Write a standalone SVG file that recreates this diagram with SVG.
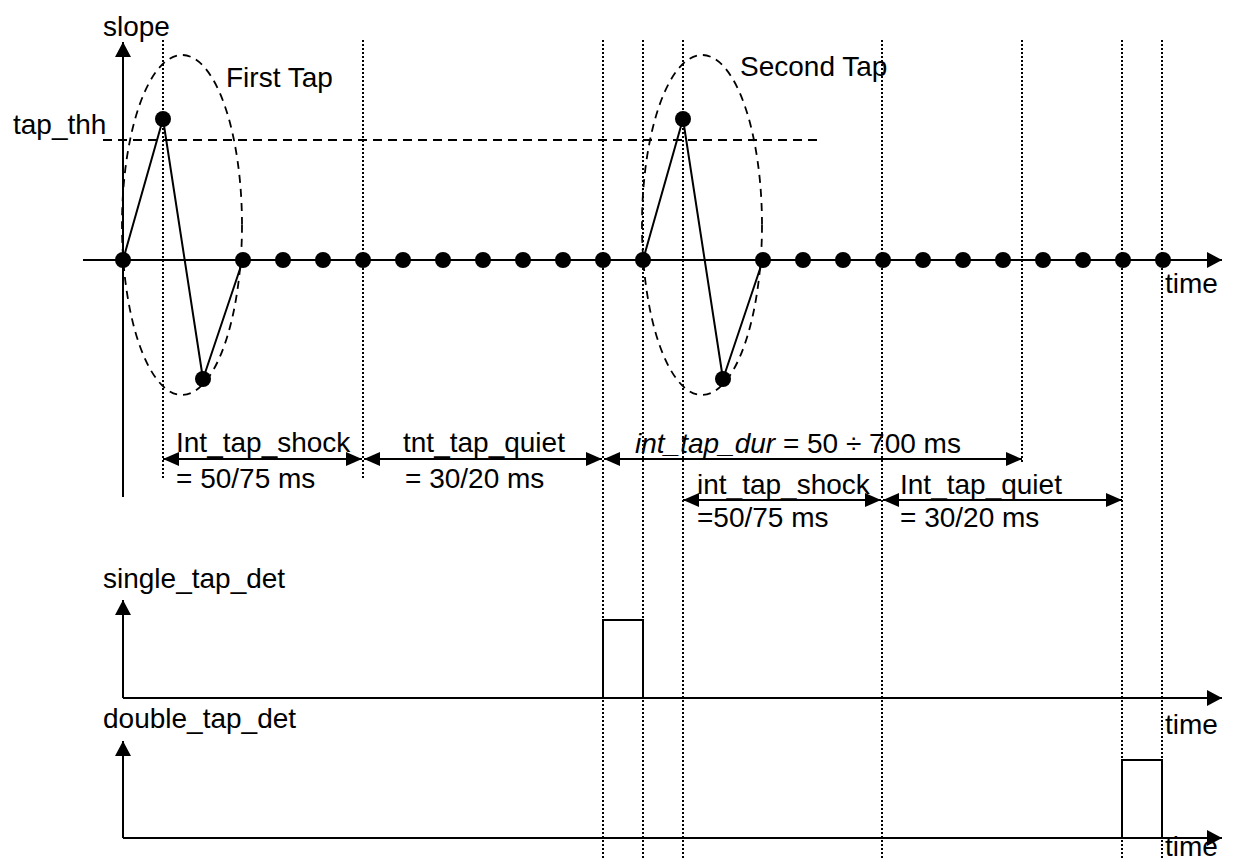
<svg xmlns="http://www.w3.org/2000/svg" width="1234" height="864" viewBox="0 0 1234 864">
<style>
text{font-family:"Liberation Sans",Arial,sans-serif;font-size:28px;fill:#000}
.ax{stroke:#000;stroke-width:2;fill:none}
.sig{stroke:#000;stroke-width:2;fill:none}
.dot{fill:#000}
.grid{stroke:#000;stroke-width:2;stroke-dasharray:2 2;fill:none}
.dash{stroke:#000;stroke-width:2;stroke-dasharray:9 6;fill:none}
.ell{stroke:#000;stroke-width:1.8;stroke-dasharray:8 6;fill:none}
.dim{stroke:#000;stroke-width:2;fill:none;marker-start:url(#ah);marker-end:url(#ah)}
</style>
<defs>
<marker id="ah" viewBox="0 0 16 14" refX="16" refY="7" markerWidth="16" markerHeight="14" markerUnits="userSpaceOnUse" orient="auto-start-reverse"><path d="M0,0 L16,7 L0,14 z" fill="#000"/></marker>
<marker id="axh" viewBox="0 0 15 16" refX="15" refY="8" markerWidth="15" markerHeight="16" markerUnits="userSpaceOnUse" orient="auto"><path d="M0,0 L15,8 L0,16 z" fill="#000"/></marker>
</defs>

<g id="gridlines">
<line class="grid" x1="163" y1="40" x2="163" y2="478"/>
<line class="grid" x1="363" y1="40" x2="363" y2="478"/>
<line class="grid" x1="603" y1="40" x2="603" y2="858"/>
<line class="grid" x1="643" y1="40" x2="643" y2="858"/>
<line class="grid" x1="683" y1="40" x2="683" y2="858"/>
<line class="grid" x1="882" y1="40" x2="882" y2="858"/>
<line class="grid" x1="1022" y1="40" x2="1022" y2="463"/>
<line class="grid" x1="1122" y1="40" x2="1122" y2="858"/>
<line class="grid" x1="1162" y1="40" x2="1162" y2="858"/>
</g>

<g id="slope-axes">
<line class="ax" x1="123" y1="497" x2="123" y2="42" marker-end="url(#axh)"/>
<line class="ax" x1="83" y1="260" x2="1222" y2="260" marker-end="url(#axh)"/>
<text x="103" y="36">slope</text>
<text x="1165" y="293">time</text>
</g>

<g id="threshold">
<line class="dash" x1="103" y1="140" x2="820" y2="140"/>
<text x="13" y="134">tap_thh</text>
</g>

<g id="first-tap">
<ellipse class="ell" cx="182" cy="225" rx="60" ry="170"/>
<polyline class="sig" points="123,260 163,119 203,379 243,260"/>
<text x="226" y="87">First Tap</text>
</g>

<g id="second-tap">
<ellipse class="ell" cx="702" cy="225" rx="60" ry="170"/>
<polyline class="sig" points="643,260 683,119 723,379 763,260"/>
<text x="740" y="76">Second Tap</text>
</g>

<g id="samples">
<circle class="dot" cx="123" cy="260" r="8"/>
<circle class="dot" cx="163" cy="119" r="8"/>
<circle class="dot" cx="203" cy="379" r="8"/>
<circle class="dot" cx="243" cy="260" r="8"/>
<circle class="dot" cx="283" cy="260" r="8"/>
<circle class="dot" cx="323" cy="260" r="8"/>
<circle class="dot" cx="363" cy="260" r="8"/>
<circle class="dot" cx="403" cy="260" r="8"/>
<circle class="dot" cx="443" cy="260" r="8"/>
<circle class="dot" cx="483" cy="260" r="8"/>
<circle class="dot" cx="523" cy="260" r="8"/>
<circle class="dot" cx="563" cy="260" r="8"/>
<circle class="dot" cx="603" cy="260" r="8"/>
<circle class="dot" cx="643" cy="260" r="8"/>
<circle class="dot" cx="683" cy="119" r="8"/>
<circle class="dot" cx="723" cy="379" r="8"/>
<circle class="dot" cx="763" cy="260" r="8"/>
<circle class="dot" cx="803" cy="260" r="8"/>
<circle class="dot" cx="843" cy="260" r="8"/>
<circle class="dot" cx="883" cy="260" r="8"/>
<circle class="dot" cx="923" cy="260" r="8"/>
<circle class="dot" cx="963" cy="260" r="8"/>
<circle class="dot" cx="1003" cy="260" r="8"/>
<circle class="dot" cx="1043" cy="260" r="8"/>
<circle class="dot" cx="1083" cy="260" r="8"/>
<circle class="dot" cx="1123" cy="260" r="8"/>
<circle class="dot" cx="1163" cy="260" r="8"/>
</g>

<g id="connectors">
<line class="dim" x1="163" y1="459" x2="362" y2="459"/>
<line class="dim" x1="364" y1="459" x2="602" y2="459"/>
<line class="dim" x1="604" y1="459" x2="1022" y2="459"/>
<line class="dim" x1="683" y1="500" x2="881" y2="500"/>
<line class="dim" x1="883" y1="500" x2="1122" y2="500"/>
</g>

<g id="labels">
<text x="176" y="452">Int_tap_shock</text>
<text x="176" y="488">= 50/75 ms</text>
<text x="403" y="452">tnt_tap_quiet</text>
<text x="405" y="488">= 30/20 ms</text>
<text x="635" y="453"><tspan font-style="italic">int_tap_dur</tspan> = 50 ÷ 700 ms</text>
<text x="697" y="494">int_tap_shock</text>
<text x="697" y="527">=50/75 ms</text>
<text x="900" y="494">Int_tap_quiet</text>
<text x="900" y="527">= 30/20 ms</text>
</g>

<g id="single-tap-det">
<line class="ax" x1="123" y1="698" x2="123" y2="600" marker-end="url(#axh)"/>
<line class="ax" x1="123" y1="698" x2="1222" y2="698" marker-end="url(#axh)"/>
<path class="sig" d="M603,698 V620 H643 V698"/>
<text x="103" y="588">single_tap_det</text>
<text x="1165" y="734">time</text>
</g>

<g id="double-tap-det">
<line class="ax" x1="123" y1="838" x2="123" y2="741" marker-end="url(#axh)"/>
<line class="ax" x1="123" y1="838" x2="1222" y2="838" marker-end="url(#axh)"/>
<path class="sig" d="M1122,838 V760 H1162 V838"/>
<text x="103" y="728">double_tap_det</text>
<text x="1165" y="856">time</text>
</g>
</svg>
